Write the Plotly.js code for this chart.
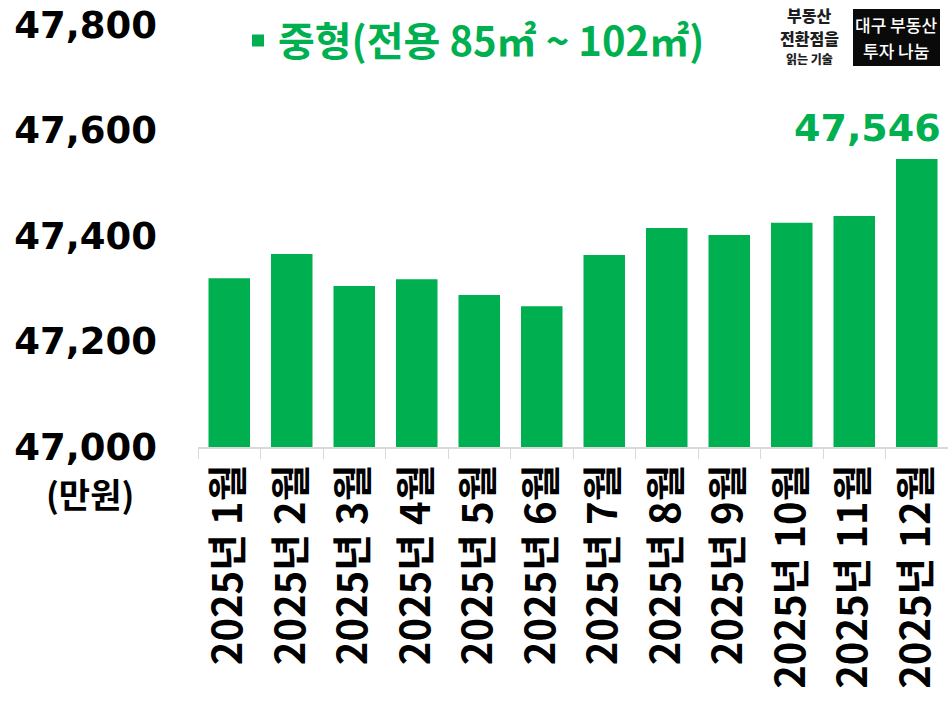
<!DOCTYPE html>
<html>
<head>
<meta charset="utf-8">
<script src="https://cdn.plot.ly/plotly-3.0.1.min.js"></script>
<style>html,body{margin:0;padding:0;background:#fff}#chart{width:948px;height:707px}</style>
</head>
<body>
<div id="chart"></div>
<script>
const categories = ["2025년 1월","2025년 2월","2025년 3월","2025년 4월","2025년 5월","2025년 6월","2025년 7월","2025년 8월","2025년 9월","2025년 10월","2025년 11월","2025년 12월"];
const values = [47320, 47366, 47305, 47318, 47288, 47267, 47364, 47415, 47402, 47425, 47438, 47546];
const seriesName = "중형(전용 85㎡ ~ 102㎡)";
const yTickVals = [47000, 47200, 47400, 47600, 47800];
const yTickText = ["47,000", "47,200", "47,400", "47,600", "47,800"];
const unitLabel = "(만원)";
const highlightText = "47,546";
const logoLeftLines = ["부동산", "전환점을", "읽는 기술"];
const logoRightLines = ["대구 부동산", "투자 나눔"];

const GREEN = "#00B050";
const KR = "'Noto Sans CJK KR', 'Noto Sans', sans-serif";
const NUM = "'DejaVu Sans', 'Noto Sans CJK KR', sans-serif";

const trace = {
  type: "bar",
  x: categories,
  y: values,
  name: seriesName,
  marker: {color: GREEN},
  showlegend: true,
  hoverinfo: "none"
};

const last = categories.length - 1;
const PLOT_TOP = 25; // pixel of paper y=1

const annotations = [
  {
    xref: "x", yref: "y", x: categories[last], y: values[last],
    text: highlightText, showarrow: false,
    xanchor: "right", yanchor: "middle", xshift: 26, yshift: 31,
    font: {family: NUM, size: 38, color: GREEN, weight: 700}
  },
  {
    xref: "paper", yref: "paper", x: 0, y: 0,
    text: unitLabel, showarrow: false,
    xanchor: "center", yanchor: "middle", xshift: -108, yshift: -46,
    font: {family: KR, size: 34, color: "#000", weight: 700}
  }
];
// logo text block (left)
const leftSizes = [16, 16, 12];
const leftCenters = [15, 38, 58];
logoLeftLines.forEach((t, i) => {
  annotations.push({
    xref: "paper", yref: "paper", x: 1, y: 1,
    text: t, showarrow: false, borderpad: 0,
    xanchor: "center", yanchor: "middle", xshift: -139, yshift: PLOT_TOP - leftCenters[i],
    font: {family: KR, size: leftSizes[i], color: "#1e1e1e", weight: 900}
  });
});
// logo box text (right)
const rightCenters = [24, 50];
logoRightLines.forEach((t, i) => {
  annotations.push({
    xref: "paper", yref: "paper", x: 1, y: 1,
    text: t, showarrow: false, borderpad: 0,
    xanchor: "center", yanchor: "middle", xshift: -52, yshift: PLOT_TOP - rightCenters[i],
    font: {family: KR, size: 17, color: "#ffffff", weight: 500}
  });
});

const layout = {
  width: 948, height: 707,
  margin: {l: 198, r: 0, t: 25, b: 260, pad: 0, autoexpand: false},
  paper_bgcolor: "#ffffff",
  plot_bgcolor: "#ffffff",
  bargap: 0.336,
  showlegend: true,
  legend: {
    orientation: "h",
    xref: "container", yref: "container",
    x: 238/948, xanchor: "left",
    y: 1 - 8/707, yanchor: "top",
    font: {family: KR, size: 40, color: GREEN, weight: 700},
    bgcolor: "rgba(0,0,0,0)",
    borderwidth: 0
  },
  xaxis: {
    type: "category",
    showline: true, linecolor: "#d9d9d9", linewidth: 1.5,
    ticks: "outside", tickson: "boundaries", ticklen: 10, tickcolor: "#d9d9d9", tickwidth: 1,
    tickangle: -90,
    tickfont: {family: KR, size: 40, color: "#000", weight: 700},
    ticklabelstandoff: 0,
    showgrid: false, zeroline: false,
    automargin: false,
    fixedrange: true
  },
  yaxis: {
    range: [47000, 47800],
    tickvals: yTickVals, ticktext: yTickText,
    tickfont: {family: NUM, size: 37, color: "#000", weight: 700},
    showgrid: false, zeroline: false, showline: false, ticks: "",
    ticklabelstandoff: 40,
    automargin: false,
    fixedrange: true
  },
  shapes: [
    {
      type: "rect", xref: "paper", yref: "paper", layer: "below",
      x0: (853 - 198) / 750, x1: (940 - 198) / 750,
      y0: (447 - 66) / 422, y1: (447 - 9) / 422,
      fillcolor: "#0a0a0a", line: {width: 0}
    }
  ],
  annotations: annotations
};

Plotly.newPlot("chart", [trace], layout, {displayModeBar: false, staticPlot: true});
</script>
</body>
</html>
